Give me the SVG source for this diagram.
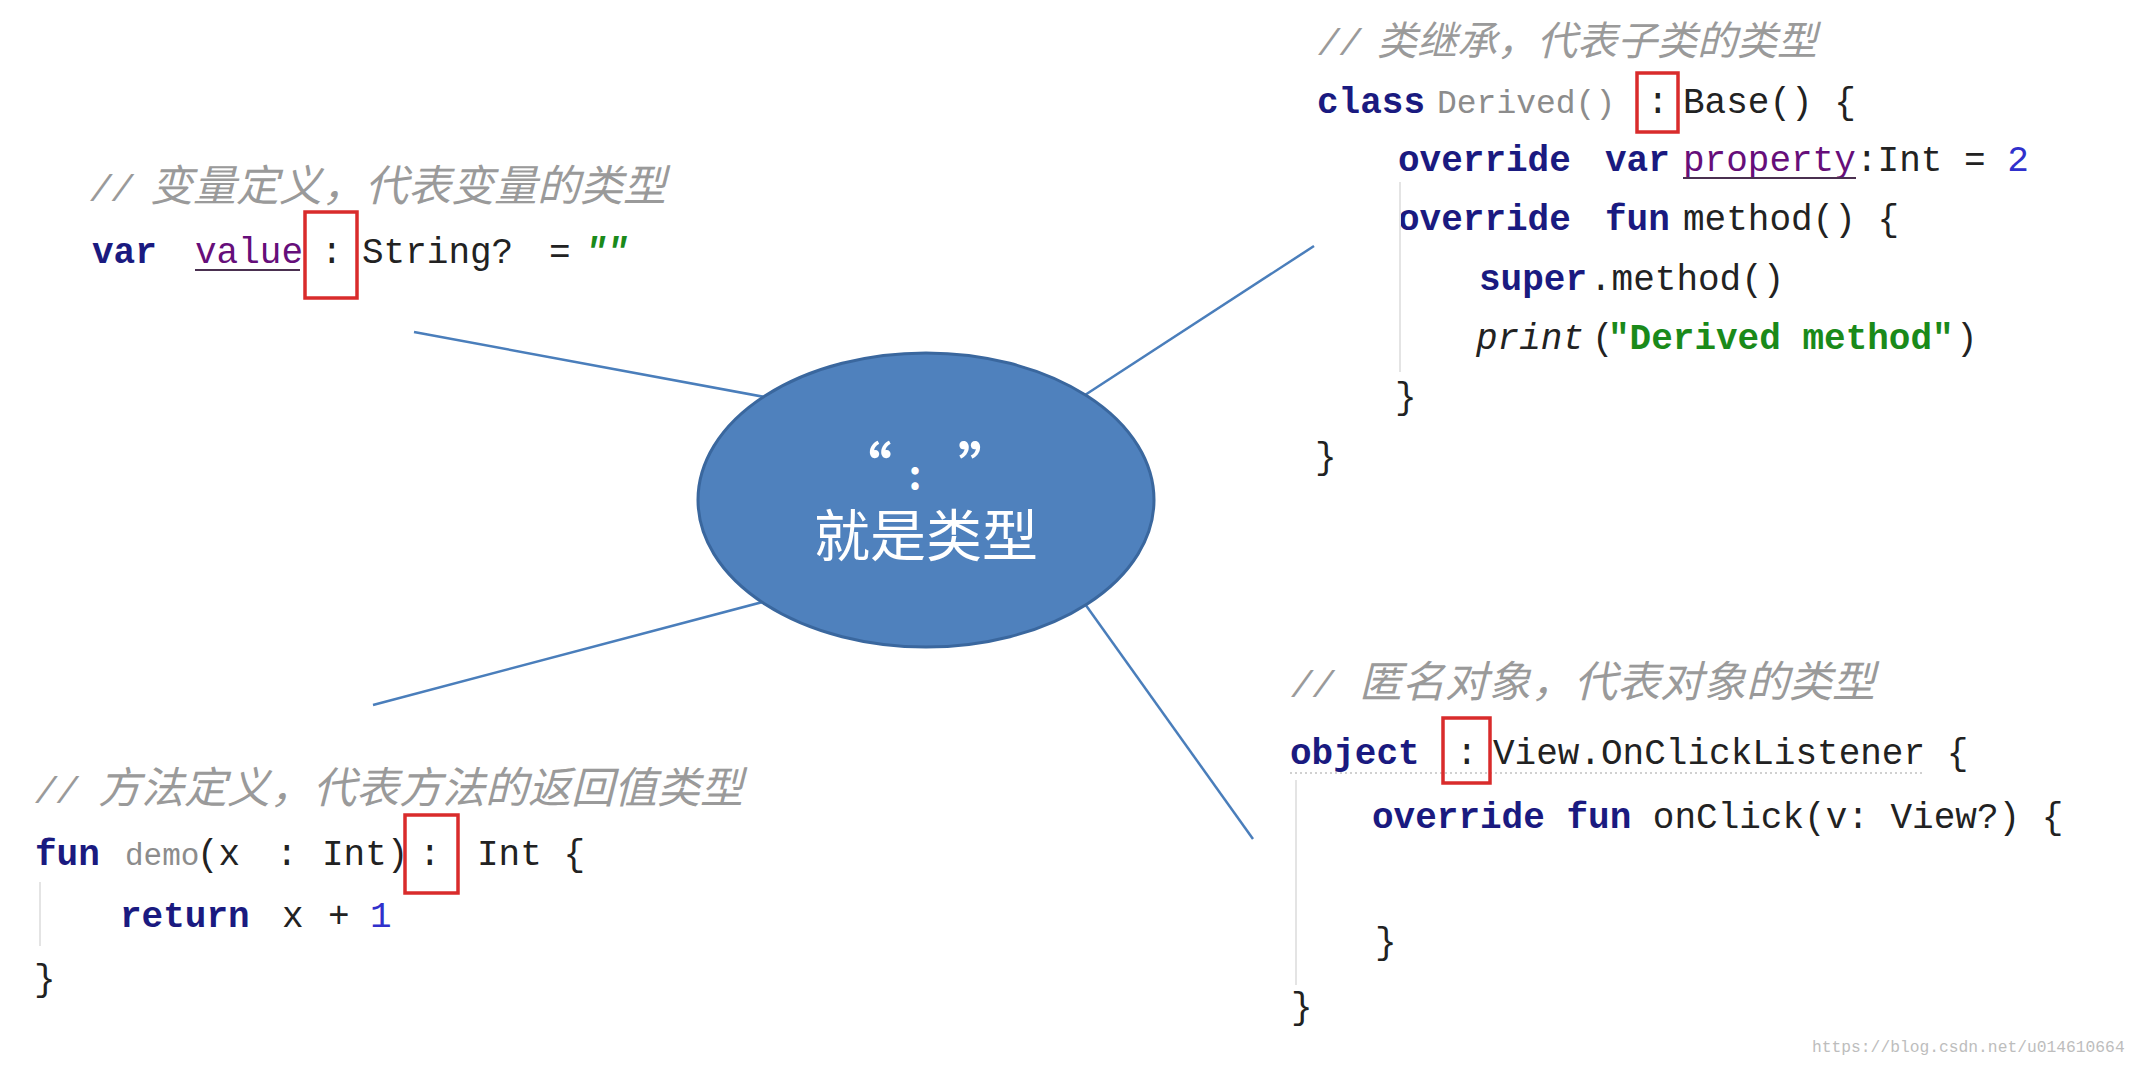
<svg xmlns="http://www.w3.org/2000/svg" width="2142" height="1068" viewBox="0 0 2142 1068">
<style>
.code { font-family: "Liberation Mono", "DejaVu Sans Mono", monospace; font-size: 36px; fill: #222222; }
.kw { fill: #1a1a80; font-weight: bold; }
.pur { fill: #660e7a; }
.gry { fill: #8c8c8c; }
.num { fill: #3030cc; }
.str { fill: #1a8a1a; font-weight: bold; }
.it { font-style: italic; }
.cmt { font-family: "Liberation Mono", monospace; font-style: italic; fill: #9a9a9a; font-size: 36px; }
.cjk { font-family: "Noto Sans CJK SC", sans-serif; font-style: italic; fill: #9a9a9a; }
.box { fill: none; stroke: #d92b2b; stroke-width: 3.5; }
.link { stroke: #4a7ebb; stroke-width: 2.5; fill: none; }
.guide { stroke: #e4e4e4; stroke-width: 2; }
.uline { stroke: #4a3050; stroke-width: 2; }
.center { font-family: "Noto Sans CJK SC", sans-serif; font-size: 56px; fill: #ffffff; text-anchor: middle; }
</style>
<rect width="2142" height="1068" fill="#ffffff"/>

<g id="connectors">
  <line class="link" x1="414" y1="332" x2="770" y2="398"/>
  <line class="link" x1="1314" y1="246" x2="1085" y2="395"/>
  <line class="link" x1="373" y1="705" x2="770" y2="600"/>
  <line class="link" x1="1253" y1="839" x2="1085" y2="604"/>
</g>

<g id="node-center">
  <ellipse cx="926" cy="500" rx="228" ry="147" fill="#4f81bd" stroke="#3a679e" stroke-width="3"/>
  <text class="center" y="489" font-weight="bold"><tspan x="864">“</tspan><tspan x="915" font-size="40">:</tspan><tspan x="986">”</tspan></text>
  <text class="center" x="926" y="556">就是类型</text>
</g>

<g id="node-variable">
  <text class="cmt" x="90" y="201">//</text>
  <text class="cjk" x="150" y="201" font-size="43">变量定义，代表变量的类型</text>
  <text class="code" y="263"><tspan class="kw" x="92">var</tspan> <tspan class="pur" x="195">value</tspan> <tspan x="321">:</tspan> <tspan x="362">String?</tspan> <tspan x="549">=</tspan> <tspan class="str it" x="585">""</tspan></text>
  <line class="uline" x1="195" y1="270" x2="300" y2="270"/>
  <rect class="box" x="305" y="212" width="52" height="86"/>
</g>

<g id="node-inheritance">
  <text class="cmt" x="1318" y="55">//</text>
  <text class="cjk" x="1377" y="55" font-size="40">类继承，代表子类的类型</text>
  <text class="code" y="113"><tspan class="kw" x="1317">class</tspan> <tspan class="gry" x="1437" font-size="33">Derived()</tspan> <tspan x="1647">:</tspan> <tspan x="1683">Base() {</tspan></text>
  <rect class="box" x="1637" y="73" width="41" height="59"/>
  <text class="code" y="171"><tspan class="kw" x="1398">override</tspan> <tspan class="kw" x="1605">var</tspan> <tspan class="pur" x="1683">property</tspan><tspan x="1856">:Int = </tspan><tspan class="num">2</tspan></text>
  <line class="uline" x1="1683" y1="178" x2="1856" y2="178"/>
  <text class="code" y="230"><tspan class="kw" x="1398">override</tspan> <tspan class="kw" x="1605">fun</tspan> <tspan x="1683">method() {</tspan></text>
  <text class="code" y="290"><tspan class="kw" x="1479">super</tspan><tspan x="1590">.method()</tspan></text>
  <text class="code" y="349"><tspan class="it" x="1476">print</tspan><tspan x="1592">(</tspan><tspan class="str" x="1608">"Derived method"</tspan><tspan x="1956">)</tspan></text>
  <line class="guide" x1="1400" y1="182" x2="1400" y2="372"/>
  <text class="code" x="1395" y="408">}</text>
  <text class="code" x="1315" y="468">}</text>
</g>

<g id="node-method">
  <text class="cmt" x="35" y="803">//</text>
  <text class="cjk" x="98" y="803" font-size="43">方法定义，代表方法的返回值类型</text>
  <text class="code" y="865"><tspan class="kw" x="35">fun</tspan> <tspan class="gry" x="125" font-size="31">demo</tspan><tspan x="197">(x</tspan> <tspan x="276">:</tspan> <tspan x="322">Int)</tspan> <tspan x="419">:</tspan> <tspan x="477">Int {</tspan></text>
  <rect class="box" x="405" y="815" width="53" height="78"/>
  <line class="guide" x1="40" y1="882" x2="40" y2="946"/>
  <text class="code" y="927"><tspan class="kw" x="120">return</tspan> <tspan x="282">x</tspan> <tspan x="328">+</tspan> <tspan class="num" x="370">1</tspan></text>
  <text class="code" x="34" y="990">}</text>
</g>

<g id="node-object">
  <text class="cmt" x="1291" y="697">//</text>
  <text class="cjk" x="1359" y="697" font-size="43">匿名对象，代表对象的类型</text>
  <text class="code" y="764"><tspan class="kw" x="1290">object</tspan> <tspan x="1456">:</tspan> <tspan x="1493">View.OnClickListener {</tspan></text>
  <line x1="1290" y1="773" x2="1925" y2="773" stroke="#d0d0d0" stroke-width="2" stroke-dasharray="2 3"/>
  <rect class="box" x="1443" y="718" width="47" height="65"/>
  <line class="guide" x1="1296" y1="780" x2="1296" y2="985"/>
  <text class="code" x="1372" y="828"><tspan class="kw">override fun</tspan> onClick(v: View?) {</text>
  <text class="code" x="1375" y="953">}</text>
  <text class="code" x="1291" y="1018">}</text>
</g>

<g id="watermark">
  <text x="1812" y="1052" font-family="Liberation Mono, monospace" font-size="16.3" fill="#bdbdbd">https://blog.csdn.net/u014610664</text>
</g>
</svg>
